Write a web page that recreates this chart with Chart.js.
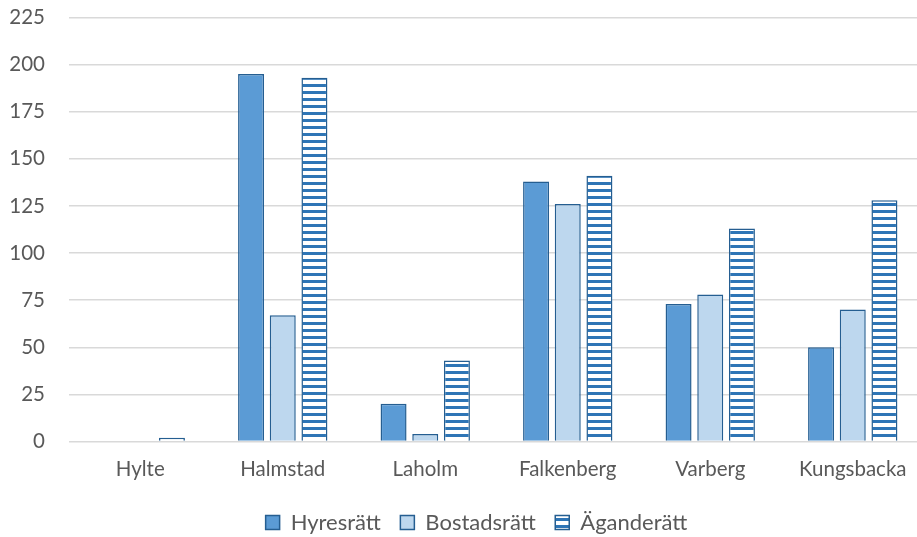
<!DOCTYPE html>
<html>
<head>
<meta charset="utf-8">
<script src="https://cdn.jsdelivr.net/npm/chart.js@4.4.1/dist/chart.umd.min.js"></script>
<style>
html,body{margin:0;padding:0;background:#fff;overflow:hidden;}
#wrap{width:917px;height:537px;position:relative;overflow:hidden;}
</style>
</head>
<body>
<div id="wrap"><canvas id="c" width="924" height="537" style="width:924px;height:537px;"></canvas></div>
<script>
const categories = ["Hylte", "Halmstad", "Laholm", "Falkenberg", "Varberg", "Kungsbacka"];
const seriesNames = ["Hyresrätt", "Bostadsrätt", "Äganderätt"];
const hyresratt = [0, 195, 20, 138, 73, 50];
const bostadsratt = [0, 67, 4, 126, 78, 70];
const aganderatt = [2, 193, 43, 141, 113, 128];
const yTicks = [0, 25, 50, 75, 100, 125, 150, 175, 200, 225];

function stripePattern() {
  const p = document.createElement('canvas');
  p.width = 8; p.height = 7;
  const g = p.getContext('2d');
  g.fillStyle = '#ffffff';
  g.fillRect(0, 0, 8, 7);
  g.fillStyle = '#2E75B6';
  g.fillRect(0, 0, 8, 3);
  return g.createPattern(p, 'repeat');
}

const FONT = "Lato, 'Open Sans', sans-serif";
const FS = 20.5;
const border = '#255E91';
const LEGEND_H = 54.5;

const fixLegend = {
  id: 'fixLegend',
  beforeLayout(chart) {
    const lg = chart.legend;
    if (lg && !lg._patched) {
      const orig = lg.fit.bind(lg);
      lg.fit = function() { orig(); this.height = LEGEND_H; };
      lg._patched = true;
    }
  },
  afterLayout(chart) {
    const lg = chart.legend;
    if (lg) {
      lg.left += 14.5; lg.right += 14.5;
      lg.top += 9.5; lg.bottom += 9.5;
    }
  }
};

new Chart(document.getElementById('c'), {
  type: 'bar',
  data: {
    labels: categories,
    datasets: [
      {label: seriesNames[0], data: hyresratt, backgroundColor: '#5B9BD5', borderColor: border, borderWidth: 1.5},
      {label: seriesNames[1], data: bostadsratt, backgroundColor: '#BDD7EE', borderColor: border, borderWidth: 1.5},
      {label: seriesNames[2], data: aganderatt, backgroundColor: stripePattern(), borderColor: border, borderWidth: 1.5}
    ]
  },
  plugins: [fixLegend],
  options: {
    responsive: false,
    animation: false,
    devicePixelRatio: 1,
    layout: {padding: {left: 0, right: 0, top: 17.5, bottom: 0}},
    datasets: {bar: {categoryPercentage: 0.667, barPercentage: 0.82}},
    plugins: {
      legend: {
        position: 'bottom',
        labels: {
          font: {family: FONT, size: 22},
          color: '#595959',
          boxWidth: 14, boxHeight: 14,
          padding: 19.5
        }
      },
      tooltip: {enabled: false}
    },
    scales: {
      x: {
        grid: {display: false, drawTicks: false},
        border: {display: false},
        afterFit: (s) => { s.height = 41; },
        ticks: {font: {family: FONT, size: FS}, color: '#595959', padding: 16}
      },
      y: {
        min: 0, max: 225,
        afterBuildTicks: (s) => { s.ticks = yTicks.map(v => ({value: v})); },
        afterFit: (s) => { s.width = 69; s.paddingTop = 0; s.paddingBottom = 0; },
        grid: {color: '#D9D9D9', lineWidth: 1.5, drawTicks: false},
        border: {display: false},
        ticks: {font: {family: FONT, size: FS}, color: '#595959', padding: 24}
      }
    }
  }
});
</script>
</body>
</html>
